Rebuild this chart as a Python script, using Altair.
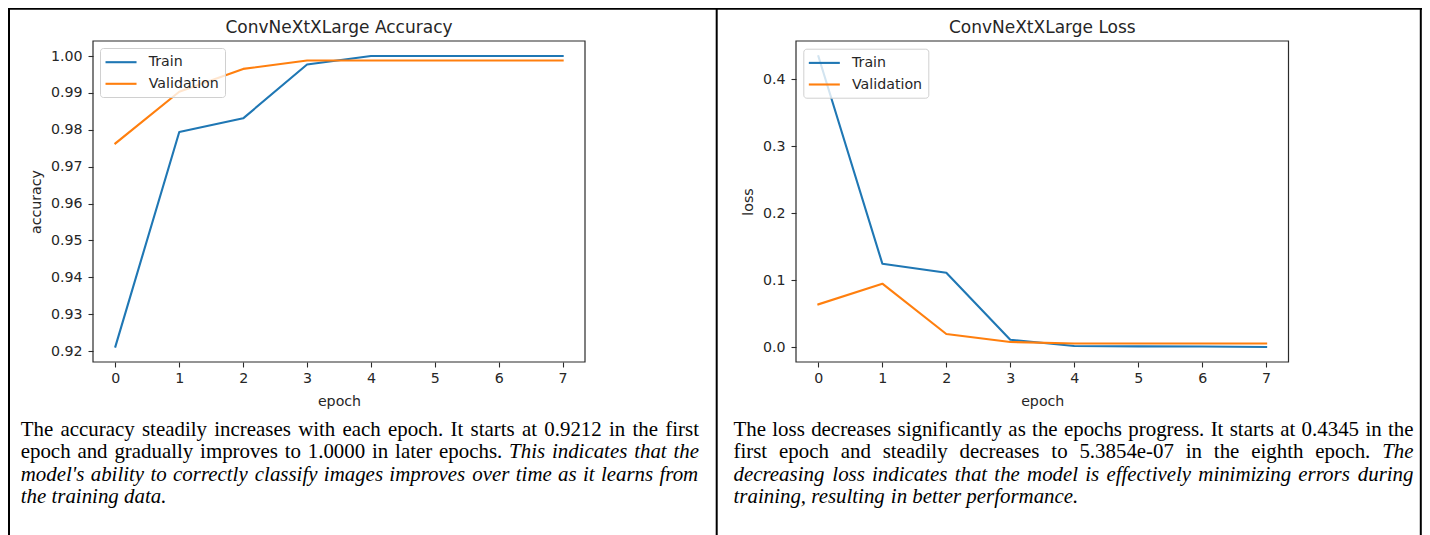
import altair as alt
import pandas as pd

# ---------------- data ----------------
epochs = [0, 1, 2, 3, 4, 5, 6, 7]
series_names = ["Train", "Validation"]
series_colors = ["#1f77b4", "#ff7f0e"]

acc_train = [0.9212, 0.9794, 0.9831, 0.9977, 1.0000, 1.0000, 1.0000, 1.0000]
acc_val = [0.9763, 0.9903, 0.9965, 0.9988, 0.9988, 0.9988, 0.9988, 0.9988]
loss_train = [0.4345, 0.1245, 0.1110, 0.0109, 0.0015, 0.0010, 0.0008, 5.3854e-07]
loss_val = [0.0638, 0.0946, 0.0194, 0.0075, 0.0052, 0.0052, 0.0052, 0.0052]

acc_ticks = [0.92, 0.93, 0.94, 0.95, 0.96, 0.97, 0.98, 0.99, 1.00]
loss_ticks = [0.0, 0.1, 0.2, 0.3, 0.4]

acc_title = "ConvNeXtXLarge Accuracy"
loss_title = "ConvNeXtXLarge Loss"

para_left = [
    [("The accuracy steadily increases with each epoch. It starts at 0.9212 in the first", "normal")],
    [("epoch and gradually improves to 1.0000 in later epochs.", "normal"),
     ("This indicates that the", "italic")],
    [("model's ability to correctly classify images improves over time as it learns from", "italic")],
    [("the training data.", "italic")],
]
para_right = [
    [("The loss decreases significantly as the epochs progress. It starts at 0.4345 in the", "normal")],
    [("first epoch and steadily decreases to 5.3854e-07 in the eighth epoch.", "normal"),
     ("The", "italic")],
    [("decreasing loss indicates that the model is effectively minimizing errors during", "italic")],
    [("training, resulting in better performance.", "italic")],
]

# ---------------- layout (pixels) ----------------
W, H = 492, 321            # left plot area
PAD = {"left": 85, "top": 33, "right": 837, "bottom": 173}
R0, R1 = 703, 1195.5       # right plot x range (relative to left plot origin)
FONT = "DejaVu Sans"
FS = 14.2
TXT = "#262626"
EDGE = "#2b2b2b"
PFS = 20.9                 # paragraph font size
PLH = 22.5                 # paragraph line height

ROMAN = dict(zip("abcdefghijklmnopqrstuvwxyz",
                 [444, 500, 444, 500, 444, 333, 500, 500, 278, 278, 500, 278, 778,
                  500, 500, 500, 500, 333, 389, 278, 500, 500, 722, 500, 500, 444]))
ROMAN.update({"T": 611, "I": 333, " ": 250, ".": 250, ",": 250, "-": 333, "'": 180})
ITAL = dict(zip("abcdefghijklmnopqrstuvwxyz",
                [500, 500, 444, 500, 444, 278, 500, 500, 278, 278, 444, 278, 722,
                 500, 500, 500, 500, 389, 389, 278, 500, 444, 667, 444, 444, 389]))
ITAL.update({"T": 556, "I": 333, " ": 250, ".": 250, ",": 250, "-": 333, "'": 214})


def word_width(word, style):
    tbl = ROMAN if style == "normal" else ITAL
    return sum(tbl.get(ch, 500) for ch in word) / 1000.0 * PFS


def layout_para(lines, x0, x1, y0):
    rows = []
    for i, segs in enumerate(lines):
        words = [(w, st) for text, st in segs for w in text.split()]
        widths = [word_width(w, st) for w, st in words]
        last = i == len(lines) - 1
        if last or len(words) < 2:
            gap = 250 / 1000.0 * PFS
        else:
            gap = (x1 - x0 - sum(widths)) / (len(words) - 1)
        x = x0
        for j, ((w, st), wd) in enumerate(zip(words, widths)):
            xx = x1 - wd if (not last and j == len(words) - 1) else x
            rows.append({"word": w, "style": st, "x": xx, "y": y0 + i * PLH})
            x += wd + gap
    return rows


words = pd.DataFrame(layout_para(para_left, -72.3, 606, 394.5) +
                     layout_para(para_right, 640.5, 1320.5, 394.5))

acc_df = pd.DataFrame({"epoch": epochs * 2, "value": acc_train + acc_val,
                       "series": [series_names[0]] * 8 + [series_names[1]] * 8})
loss_df = pd.DataFrame({"epoch": epochs * 2, "value": loss_train + loss_val,
                        "series": [series_names[0]] * 8 + [series_names[1]] * 8})


def axis(orient, values, title, fmt=None, offset=0):
    kw = dict(orient=orient, values=values, title=title, grid=False, domain=False,
              ticks=True, tickSize=5, tickWidth=1.1, tickColor=EDGE,
              labelFont=FONT, labelFontSize=FS, labelColor=TXT,
              titleFont=FONT, titleFontSize=FS, titleColor=TXT, titleFontWeight="normal",
              labelPadding=6 if orient == "left" else 4, titlePadding=7 if orient == "left" else 9,
              offset=offset)
    if fmt:
        kw["format"] = fmt
    return alt.Axis(**kw)


def legend(lx, ly):
    return alt.Legend(title=None, orient="none", legendX=lx, legendY=ly,
                      symbolType="M-1.24,0H3.19", symbolSize=196, symbolStrokeWidth=2.1,
                      labelFont=FONT, labelFontSize=FS, labelColor=TXT, labelOffset=26,
                      padding=5.7, rowPadding=5.6, fillColor="rgba(255,255,255,0.8)",
                      strokeColor="#d0d0d0", cornerRadius=3)


color_scale = alt.Scale(domain=series_names, range=series_colors)

acc_lines = alt.Chart(acc_df).mark_line(strokeWidth=2.1, strokeCap="square", strokeJoin="round").encode(
    x=alt.X("epoch:Q", scale=alt.Scale(domain=[-0.35, 7.35], nice=False, zero=False),
            axis=axis("bottom", epochs, "epoch")),
    y=alt.Y("value:Q", scale=alt.Scale(domain=[0.91702, 1.00407], nice=False, zero=False),
            axis=axis("left", acc_ticks, "accuracy", ".2f")),
    color=alt.Color("series:N", scale=color_scale, legend=legend(7, 7)),
)

loss_lines = alt.Chart(loss_df).mark_line(strokeWidth=2.1, strokeCap="square", strokeJoin="round").encode(
    x=alt.X("epoch:Q", scale=alt.Scale(domain=[-0.35, 7.35], range=[R0, R1], nice=False, zero=False),
            axis=axis("bottom", epochs, "epoch")),
    y=alt.Y("value:Q", scale=alt.Scale(domain=[-0.0224, 0.4572], nice=False, zero=False),
            axis=axis("left", loss_ticks, "loss", ".1f", offset=-R0)),
    color=alt.Color("series:N", scale=color_scale, legend=legend(710.3, 7.7)),
)

# plot frames (matplotlib spines)
frames = pd.DataFrame({"x": [0, R0], "x2": [W, R1], "y": [0, 0], "y2": [H, H]})
frame_layer = alt.Chart(frames).mark_rect(fillOpacity=0, stroke=EDGE, strokeWidth=1.2).encode(
    x=alt.X("x:Q", scale=None), x2="x2:Q", y=alt.Y("y:Q", scale=None), y2="y2:Q")

# chart titles
titles = pd.DataFrame({"t": [acc_title, loss_title], "x": [246, 949.3], "y": [-8.2, -8.2]})
title_layer = alt.Chart(titles).mark_text(font=FONT, fontSize=17, color=TXT, align="center",
                                          baseline="alphabetic").encode(
    x=alt.X("x:Q", scale=None), y=alt.Y("y:Q", scale=None), text="t:N")

# paragraph text
normal_layer = alt.Chart(words[words["style"] == "normal"]).mark_text(
    font="Liberation Serif", fontSize=PFS, color="black", align="left", baseline="alphabetic").encode(
    x=alt.X("x:Q", scale=None), y=alt.Y("y:Q", scale=None), text="word:N")
italic_layer = alt.Chart(words[words["style"] == "italic"]).mark_text(
    font="Liberation Serif", fontSize=PFS, fontStyle="italic", color="black", align="left",
    baseline="alphabetic").encode(
    x=alt.X("x:Q", scale=None), y=alt.Y("y:Q", scale=None), text="word:N")

# table borders
borders = pd.DataFrame({"x": [-85, -84, 623.7, 1327.8],
                        "x2": [1329, -84, 623.7, 1327.8],
                        "y": [-32.3, -33, -33, -33],
                        "y2": [-32.3, 494, 494, 494]})
border_layer = alt.Chart(borders).mark_rule(color="black", strokeWidth=2).encode(
    x=alt.X("x:Q", scale=None), x2="x2:Q", y=alt.Y("y:Q", scale=None), y2="y2:Q")

chart = alt.layer(
    frame_layer, acc_lines, loss_lines, title_layer, normal_layer, italic_layer, border_layer
).resolve_scale(
    x="independent", y="independent", color="independent"
).properties(
    width=W, height=H, padding=PAD, background="white",
    autosize=alt.AutoSizeParams(type="none"),
).configure_view(strokeWidth=0)

chart.save("out.html", embed_options={"renderer": "svg", "actions": False})
